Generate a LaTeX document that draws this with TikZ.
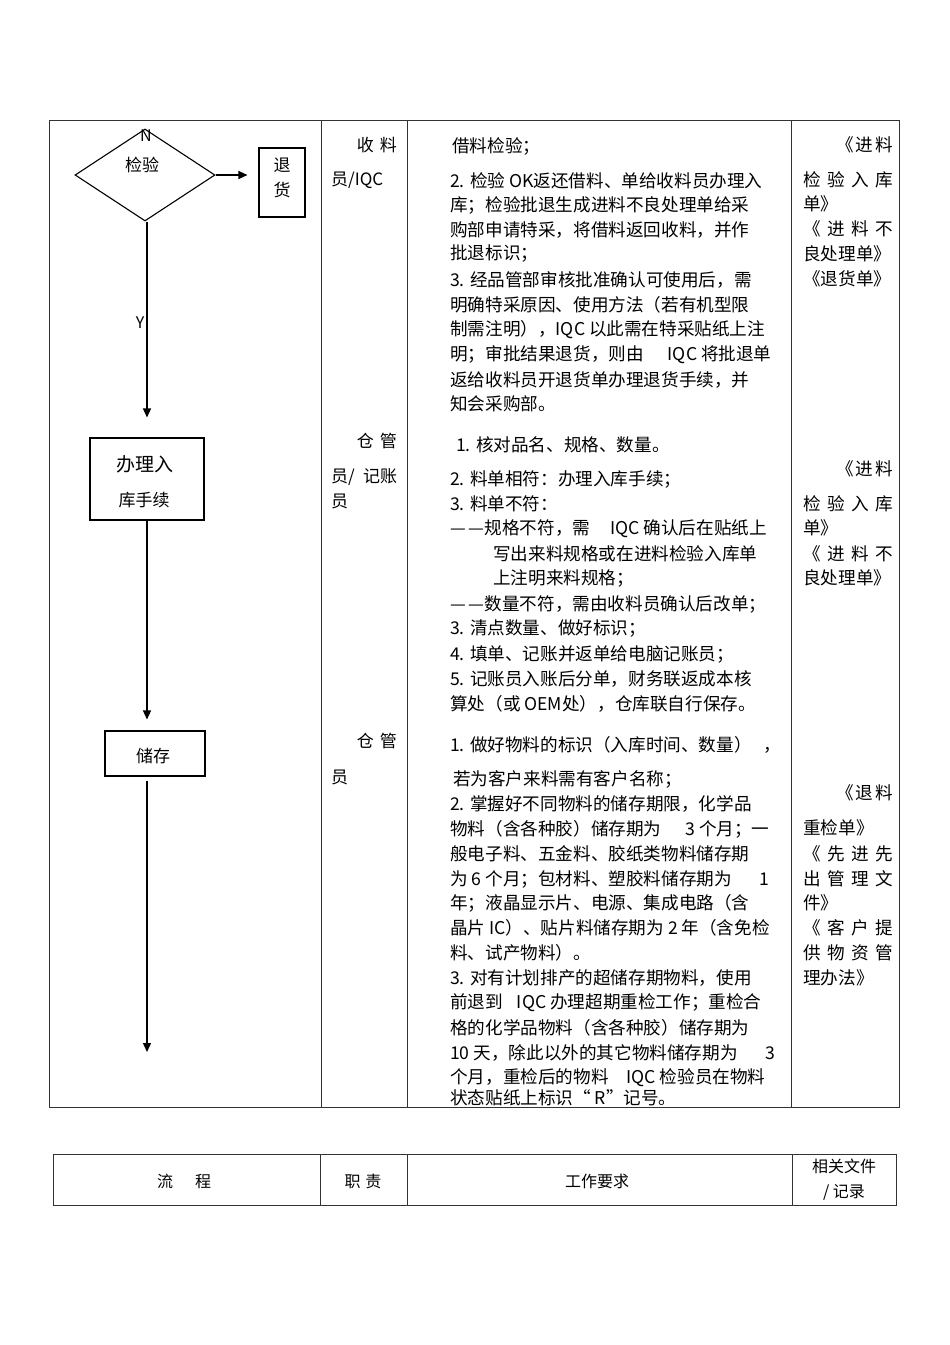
\documentclass[tikz,border=0pt]{standalone}
\usepackage{fontspec}
\setmainfont{Noto Sans CJK SC}
\usetikzlibrary{shapes.geometric,arrows.meta,positioning}
\tikzset{
  tline/.style={line width=1pt,black!80},
  flowbox/.style={draw,line width=1.1pt,inner sep=0pt},
  flowarr/.style={line width=1.3pt,-{Triangle[length=9pt,width=8pt]}},
  req/.style={anchor=west,inner sep=0pt,font=\fontsize{17.6}{20}\selectfont},
  doc/.style={anchor=west,inner sep=0pt,font=\fontsize{17.6}{20}\selectfont},
  duty/.style={inner sep=0pt,font=\fontsize{17}{20}\selectfont},
  hdr/.style={inner sep=0pt,font=\fontsize{16}{25}\selectfont}
}
\newcommand{\spread}[2]{\makebox[#1][s]{#2}}
\newcommand{\ddash}{—\hspace{3pt}—}

\begin{document}
\begin{tikzpicture}[x=1pt,y=-1pt]
    \useasboundingbox (0,0) rectangle (950,1345);
    % main table
    \draw[tline] (49,120) rectangle (899,1107);
    \foreach \x in {321,407,791} \draw[tline] (\x,120) -- (\x,1107);
    % flow
    \node[flowbox,diamond,minimum width=140pt,minimum height=92pt] (chk) at (145,175) {};
    \node[duty] (chkt) at (142,165) {检验};
    \node[duty,font=\fontsize{16}{20}\selectfont] (nlab) at (146,136) {N};
    \node[flowbox,minimum width=46pt,minimum height=69pt] (ret) at (282,182.5) {};
    \node[duty,align=center,font=\fontsize{17}{25}\selectfont] (rett) at (282,177.5) {退\\货};
    \node[flowbox,minimum width=114pt,minimum height=82pt] (rk) at (147,479) {};
    \node[duty,font=\fontsize{19}{20}\selectfont] (rkt1) at (145,464) {办理入};
    \node[duty] (rkt2) at (144,500) {库手续};
    \node[flowbox,minimum width=100pt,minimum height=45pt] (cc) at (155,753.5) {};
    \node[duty] (cct) at (153,756) {储存};
    \coordinate (stop) at (147,1052);
    \draw[flowarr,shorten >=11pt] (chk.east) -- (chk.east -| ret.west);
    \draw[flowarr,shorten >=20pt] (chk.south -| rk.north) -- (rk.north);
    \node[duty,font=\fontsize{16}{20}\selectfont] (ylab) at (140,323) {Y};
    \draw[flowarr,shorten >=11pt] (rk.south) -- (rk.south |- cc.north);
    \draw[flowarr,shorten <=4pt] (rk.south |- cc.south) -- (stop);
    % duties
    \node[duty,anchor=east] (r1a) at (397,145) {\spread{40pt}{收\hfil 料}};
    \node[duty,anchor=west] (r1b) at (331,180) {员/IQC};
    \node[duty,anchor=east] (r2a) at (397,441) {\spread{40pt}{仓\hfil 管}};
    \node[duty,anchor=west] (r2b) at (331,477) {\spread{66pt}{员/\hfil 记账}};
    \node[duty,anchor=west] (r2c) at (331,501) {员};
    \node[duty,anchor=east] (r3a) at (397,741) {\spread{40pt}{仓\hfil 管}};
    \node[duty,anchor=west] (r3b) at (331,777) {员};
    % requirements
    \node[req] (q0) at (452,146) {借料检验；};
    \foreach \y/\t [count=\i] in {181/{2. 检验 OK返还借料、单给收料员办理入},
        205/{库；检验批退生成进料不良处理单给采},
        230/{购部申请特采，将借料返回收料，并作},
        254/{批退标识；},
        280/{3. 经品管部审核批准确认可使用后，需},
        305/{明确特采原因、使用方法（若有机型限},
        330/{制需注明），IQC 以此需在特采贴纸上注},
        355/{明；审批结果退货，则由\hspace{24pt}IQC 将批退单},
        380/{返给收料员开退货单办理退货手续，并},
        404/{知会采购部。}}
      \node[req] (qa\i) at (450,\y) {\t};
    \node[req] (q1) at (456,445) {1. 核对品名、规格、数量。};
    \foreach \y/\t [count=\i] in {479/{2. 料单相符：办理入库手续；},
        504/{3. 料单不符：},
        529/{\ddash 规格不符，需\hspace{20pt}IQC 确认后在贴纸上},
        604/{\ddash 数量不符，需由收料员确认后改单；},
        629/{3. 清点数量、做好标识；},
        654/{4. 填单、记账并返单给电脑记账员；},
        679/{5. 记账员入账后分单，财务联返成本核},
        704/{算处（或 OEM处），仓库联自行保存。}}
      \node[req] (qb\i) at (450,\y) {\t};
    \node[req] (qb9) at (493,554) {写出来料规格或在进料检验入库单};
    \node[req] (qb10) at (493,578) {上注明来料规格；};
    \foreach \y/\t [count=\i] in {745/{1. 做好物料的标识（入库时间、数量）\hspace{12pt}，},
        779/{\,若为客户来料需有客户名称；},
        804/{2. 掌握好不同物料的储存期限，化学品},
        829/{物料（含各种胶）储存期为\hspace{24pt}3 个月；一},
        854/{般电子料、五金料、胶纸类物料储存期},
        879/{为 6 个月；包材料、塑胶料储存期为\hspace{28pt}1},
        903/{年；液晶显示片、电源、集成电路（含},
        928/{晶片 IC）、贴片料储存期为 2 年（含免检},
        953/{料、试产物料）。},
        978/{3. 对有计划排产的超储存期物料，使用},
        1003/{前退到\hspace{14pt}IQC 办理超期重检工作；重检合},
        1028/{格的化学品物料（含各种胶）储存期为},
        1053/{10 天，除此以外的其它物料储存期为\hspace{28pt}3},
        1078/{个月，重检后的物料\hspace{18pt}IQC 检验员在物料},
        1098/{状态贴纸上标识“ R”记号。}}
      \node[req] (qc\i) at (450,\y) {\t};
    % documents
    \node[doc,anchor=east] (d1a) at (893,145) {\spread{56pt}{《\hfil 进\hfil 料}};
    \node[doc] (d1b) at (803,180) {\spread{90pt}{检\hfil 验\hfil 入\hfil 库}};
    \node[doc] (d1c) at (803,204) {单》};
    \node[doc] (d1d) at (803,229) {\spread{90pt}{《\hfil 进\hfil 料\hfil 不}};
    \node[doc] (d1e) at (803,254) {良处理单》};
    \node[doc] (d1f) at (803,279) {《退货单》};
    \node[doc,anchor=east] (d2a) at (893,469) {\spread{56pt}{《\hfil 进\hfil 料}};
    \node[doc] (d2b) at (803,504) {\spread{90pt}{检\hfil 验\hfil 入\hfil 库}};
    \node[doc] (d2c) at (803,528) {单》};
    \node[doc] (d2d) at (803,554) {\spread{90pt}{《\hfil 进\hfil 料\hfil 不}};
    \node[doc] (d2e) at (803,578) {良处理单》};
    \node[doc,anchor=east] (d3a) at (893,793) {\spread{56pt}{《\hfil 退\hfil 料}};
    \node[doc] (d3b) at (803,828) {重检单》};
    \node[doc] (d3c) at (803,854) {\spread{90pt}{《\hfil 先\hfil 进\hfil 先}};
    \node[doc] (d3d) at (803,879) {\spread{90pt}{出\hfil 管\hfil 理\hfil 文}};
    \node[doc] (d3e) at (803,903) {件》};
    \node[doc] (d3f) at (803,928) {\spread{90pt}{《\hfil 客\hfil 户\hfil 提}};
    \node[doc] (d3g) at (803,953) {\spread{90pt}{供\hfil 物\hfil 资\hfil 管}};
    \node[doc] (d3h) at (803,978) {理办法》};
    % header table
    \draw[tline] (53,1154) rectangle (896,1205);
    \foreach \x in {320,407,792} \draw[tline] (\x,1154) -- (\x,1205);
    \node[hdr] (h1) at (184,1181) {流\hspace{22pt}程};
    \node[hdr] (h2) at (363,1181) {职\hspace{5pt}责};
    \node[hdr] (h3) at (597,1181) {工作要求};
    \node[hdr,align=center] (h4) at (844,1180) {相关文件\\/ 记录};
\end{tikzpicture}
\end{document}
